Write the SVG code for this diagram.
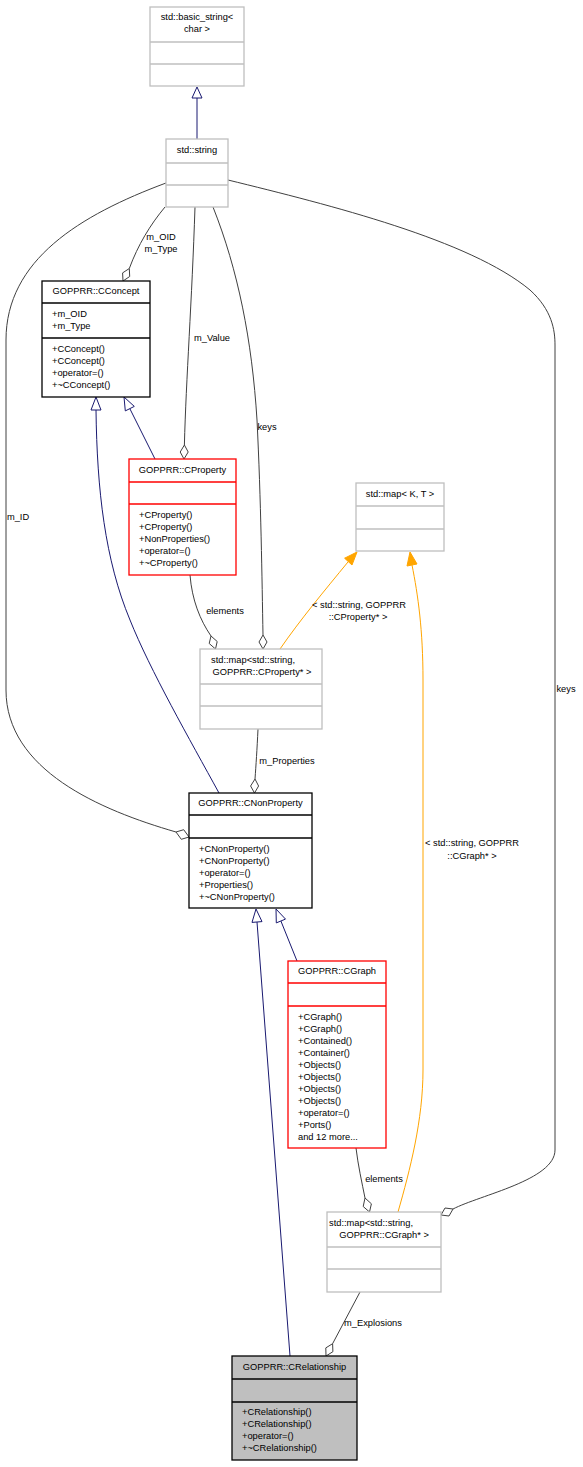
<svg xmlns="http://www.w3.org/2000/svg" width="583" height="1467" viewBox="0 0 583 1467">
<style>
text{font-family:"Liberation Sans",Arial,sans-serif;font-size:9.3px;fill:#000}
.c{text-anchor:middle}
.nb rect,.nb line{stroke:#000;stroke-width:1.3;fill:#fff}
.ng rect,.ng line{stroke:#bfbfbf;stroke-width:1.3;fill:#fff}
.nr rect,.nr line{stroke:#ff0000;stroke-width:1.3;fill:#fff}
.ns rect{stroke:#000;stroke-width:1.3;fill:#bfbfbf}
.ns line{stroke:#000;stroke-width:1.3}
.e{fill:none;stroke:#404040;stroke-width:1}
.i{fill:none;stroke:#191970;stroke-width:1}
.t{fill:none;stroke:#ffa500;stroke-width:1}
.d{fill:#fff;stroke:#404040;stroke-width:1}
.ia{fill:#fff;stroke:#191970;stroke-width:1}
.ta{fill:#ffa500;stroke:#ffa500;stroke-width:1}
</style>
<rect width="583" height="1467" fill="#fff"/>
<g id="connectors">
<!-- basic_string <- string -->
<path class="i" d="M197,139 L197,98"/>
<polygon class="ia" points="197,87 202,98 192,98"/>
<!-- m_OID m_Type -->
<path class="e" d="M165,207 C150,225 138,245 129.3,268.5"/>
<polygon class="d" points="123,281 122.6,272.9 129.3,268.5 129.7,276.5"/>
<text class="c" x="161" y="240">m_OID</text>
<text class="c" x="161" y="252">m_Type</text>
<!-- m_Value -->
<path class="e" d="M195,207 C192,300 186,380 184.4,445"/>
<polygon class="d" points="184,459 180.2,452 184.4,445 188.2,452"/>
<text class="c" x="212" y="341">m_Value</text>
<!-- keys (CProperty map) -->
<path class="e" d="M213,207 C238,270 252,340 257,420 C261,500 262,580 263,635"/>
<polygon class="d" points="263,649 259,642 263,635 267,642"/>
<text class="c" x="267" y="430">keys</text>
<!-- m_ID -->
<path class="e" d="M166,183 C80,215 6,260 6,340 L6,690 C6,770 100,810 176,832"/>
<polygon class="d" points="189,837 181.3,839.3 176,832 183.7,829.7"/>
<text class="c" x="18" y="520">m_ID</text>
<!-- CProperty -> CConcept -->
<path class="i" d="M155,459 L129.8,408.6"/>
<polygon class="ia" points="124,397 134.3,406.4 125.3,410.9"/>
<!-- CNonProperty -> CConcept -->
<path class="i" d="M219,793 C190,740 150,670 130,620 C105,560 97,490 96,410"/>
<polygon class="ia" points="96,397 101,410 91,410"/>
<!-- elements CProperty -> map -->
<path class="e" d="M190,575 C192,600 200,620 211,636"/>
<polygon class="d" points="215.5,649 209.2,643.5 211,636 217.2,641.5"/>
<text class="c" x="225" y="614">elements</text>
<!-- template map CProperty -> map<K,T> -->
<path class="t" d="M280,649 C300,620 325,590 348.3,561.6"/>
<polygon class="ta" points="357,552 352,565 344.6,558.2"/>
<text class="c" x="359" y="608">&lt; std::string, GOPPRR</text>
<text class="c" x="358" y="620">::CProperty* &gt;</text>
<!-- m_Properties -->
<path class="e" d="M258,729 C257,750 256,765 255,779"/>
<polygon class="d" points="254.5,793 250.6,786 255,779 258.6,786"/>
<text class="c" x="287" y="764">m_Properties</text>
<!-- CGraph -> CNonProperty -->
<path class="i" d="M297,961 L280.9,921"/>
<polygon class="ia" points="276,909 285.5,919.1 276.3,922.9"/>
<!-- CRelationship -> CNonProperty -->
<path class="i" d="M290,1356 L257,922"/>
<polygon class="ia" points="256,909 262,921.6 252,922.4"/>
<!-- template map CGraph -> map<K,T> -->
<path class="t" d="M398,1212 C410,1170 423,1120 423,1070 L423,680 C423,630 418,595 412,565"/>
<polygon class="ta" points="410,552 417,564 407,566"/>
<text class="c" x="472" y="846">&lt; std::string, GOPPRR</text>
<text class="c" x="472" y="859">::CGraph* &gt;</text>
<!-- keys right -->
<path class="e" d="M228,180 C330,205 470,240 530,290 C552,310 555,330 555,345 L555,1150 C555,1180 480,1195 453,1209"/>
<polygon class="d" points="441,1215 445,1208 453,1209 449,1216"/>
<text class="c" x="566" y="692">keys</text>
<!-- elements CGraph -> map -->
<path class="e" d="M356,1148 C358,1165 362,1183 365,1198"/>
<polygon class="d" points="369.5,1212 363.2,1206.5 365,1198 371.4,1203.8"/>
<text class="c" x="384" y="1182">elements</text>
<!-- m_Explosions -->
<path class="e" d="M360,1292 L332.6,1343.7"/>
<polygon class="d" points="326,1356 325.8,1347.9 332.6,1343.7 332.9,1351.7"/>
<text class="c" x="373" y="1326">m_Explosions</text>
</g>
<g id="basic_string" class="ng">
<rect x="150" y="7" width="94" height="79"/>
<line x1="150" y1="42" x2="244" y2="42"/>
<line x1="150" y1="64" x2="244" y2="64"/>
<text class="c" x="197" y="20">std::basic_string&lt;</text>
<text class="c" x="197" y="32">char &gt;</text>
</g>
<g id="std_string" class="ng">
<rect x="166" y="139" width="62" height="68"/>
<line x1="166" y1="163" x2="228" y2="163"/>
<line x1="166" y1="185" x2="228" y2="185"/>
<text class="c" x="197" y="153">std::string</text>
</g>
<g id="CConcept" class="nb">
<rect x="42" y="281" width="108" height="116"/>
<line x1="42" y1="303" x2="150" y2="303"/>
<line x1="42" y1="338" x2="150" y2="338"/>
<text class="c" x="96" y="294">GOPPRR::CConcept</text>
<text x="52" y="317">+m_OID</text>
<text x="52" y="329">+m_Type</text>
<text x="52" y="352">+CConcept()</text>
<text x="52" y="364">+CConcept()</text>
<text x="52" y="376">+operator=()</text>
<text x="52" y="388">+~CConcept()</text>
</g>
<g id="CProperty" class="nr">
<rect x="129" y="459" width="107" height="116"/>
<line x1="129" y1="482" x2="236" y2="482"/>
<line x1="129" y1="504" x2="236" y2="504"/>
<text class="c" x="182.5" y="473">GOPPRR::CProperty</text>
<text x="139" y="518">+CProperty()</text>
<text x="139" y="530">+CProperty()</text>
<text x="139" y="542">+NonProperties()</text>
<text x="139" y="554">+operator=()</text>
<text x="139" y="566">+~CProperty()</text>
</g>
<g id="map_KT" class="ng">
<rect x="356" y="483" width="88" height="68"/>
<line x1="356" y1="506" x2="444" y2="506"/>
<line x1="356" y1="529" x2="444" y2="529"/>
<text class="c" x="400" y="497">std::map&lt; K, T &gt;</text>
</g>
<g id="map_CProperty" class="ng">
<rect x="200" y="649" width="122" height="80"/>
<line x1="200" y1="684" x2="322" y2="684"/>
<line x1="200" y1="706" x2="322" y2="706"/>
<text class="c" x="253" y="663">std::map&lt;std::string,</text>
<text class="c" x="262" y="675">GOPPRR::CProperty* &gt;</text>
</g>
<g id="CNonProperty" class="nb">
<rect x="189" y="793" width="123" height="115"/>
<line x1="189" y1="815" x2="312" y2="815"/>
<line x1="189" y1="838" x2="312" y2="838"/>
<text class="c" x="250.5" y="806">GOPPRR::CNonProperty</text>
<text x="199" y="852">+CNonProperty()</text>
<text x="199" y="864">+CNonProperty()</text>
<text x="199" y="876">+operator=()</text>
<text x="199" y="888">+Properties()</text>
<text x="199" y="900">+~CNonProperty()</text>
</g>
<g id="CGraph" class="nr">
<rect x="288" y="961" width="98" height="187"/>
<line x1="288" y1="983" x2="386" y2="983"/>
<line x1="288" y1="1006" x2="386" y2="1006"/>
<text class="c" x="337" y="974">GOPPRR::CGraph</text>
<text x="298" y="1020">+CGraph()</text>
<text x="298" y="1032">+CGraph()</text>
<text x="298" y="1044">+Contained()</text>
<text x="298" y="1056">+Container()</text>
<text x="298" y="1068">+Objects()</text>
<text x="298" y="1080">+Objects()</text>
<text x="298" y="1092">+Objects()</text>
<text x="298" y="1104">+Objects()</text>
<text x="298" y="1116">+operator=()</text>
<text x="298" y="1128">+Ports()</text>
<text x="298" y="1140">and 12 more...</text>
</g>
<g id="map_CGraph" class="ng">
<rect x="327" y="1212" width="114" height="80"/>
<line x1="327" y1="1247" x2="441" y2="1247"/>
<line x1="327" y1="1269" x2="441" y2="1269"/>
<text class="c" x="371" y="1226">std::map&lt;std::string,</text>
<text class="c" x="384" y="1238">GOPPRR::CGraph* &gt;</text>
</g>
<g id="CRelationship" class="ns">
<rect x="232" y="1356" width="125" height="104"/>
<line x1="232" y1="1379" x2="357" y2="1379"/>
<line x1="232" y1="1402" x2="357" y2="1402"/>
<text class="c" x="294.5" y="1370">GOPPRR::CRelationship</text>
<text x="242" y="1415">+CRelationship()</text>
<text x="242" y="1427">+CRelationship()</text>
<text x="242" y="1439">+operator=()</text>
<text x="242" y="1451">+~CRelationship()</text>
</g>
</svg>
